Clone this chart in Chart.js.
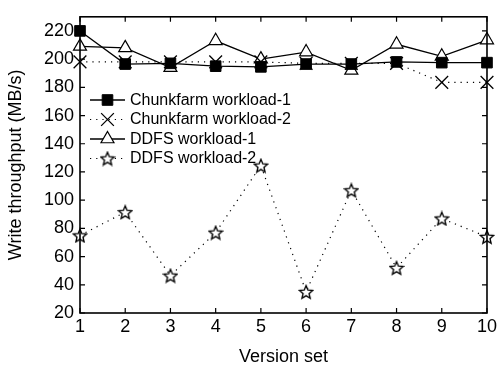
<!DOCTYPE html>
<html>
<head>
<meta charset="utf-8">
<script src="https://cdn.jsdelivr.net/npm/chart.js@4.4.0/dist/chart.umd.min.js"></script>
<style>
html,body{margin:0;padding:0;background:#fff;}
#wrap{width:500px;height:367px;position:relative;}
</style>
</head>
<body>
<div id="wrap"><canvas id="c" width="500" height="367"></canvas></div>
<script>
const versionSets = [1,2,3,4,5,6,7,8,9,10];
const chunkfarmW1 = [220,196.5,197,195,194.5,196.5,196.5,198,197.5,197.5];
const chunkfarmW2 = [198,198,198,198,198,197,197,197,183.5,183.5];
const ddfsW1 = [209,208,194,213,200,205,192,210.5,202,213.5];
const ddfsW2 = [75,91.5,46.5,77,124.5,35,107,52,87,74];
const yTicks = [20,40,60,80,100,120,140,160,180,200,220];
const seriesNames = ['Chunkfarm workload-1','Chunkfarm workload-2','DDFS workload-1','DDFS workload-2'];
const FONT = '"Liberation Sans", Arial, sans-serif';

function makeStar(size){
  const c = document.createElement('canvas');
  c.width = size; c.height = size;
  const g = c.getContext('2d');
  const cx = size/2, cy = size/2 + 0.7, R = size/2 - 1, r = R*0.45;
  g.beginPath();
  for(let i=0;i<10;i++){
    const ang = -Math.PI/2 + i*Math.PI/5;
    const rad = i%2===0 ? R : r;
    const x = cx + rad*Math.cos(ang), y = cy + rad*Math.sin(ang);
    if(i===0) g.moveTo(x,y); else g.lineTo(x,y);
  }
  g.closePath();
  g.fillStyle = '#fff'; g.fill();
  g.lineWidth = 1.35; g.strokeStyle = '#000'; g.stroke();
  return c;
}
const starImg = makeStar(16);

function pts(arr){ return versionSets.map((x,i)=>({x:x,y:arr[i]})); }

const datasets = [
  {label:seriesNames[0], data:pts(chunkfarmW1), borderColor:'#000', backgroundColor:'#000', borderWidth:1.3,
   pointStyle:'rect', pointRadius:7.5, pointBorderWidth:1, pointBackgroundColor:'#000', pointBorderColor:'#000', clip:false},
  {label:seriesNames[1], data:pts(chunkfarmW2), borderColor:'#000', backgroundColor:'#000', borderWidth:1.2, borderDash:[1.2,5],
   pointStyle:'crossRot', pointRadius:9, pointBorderWidth:1.3, pointBorderColor:'#000', clip:false},
  {label:seriesNames[2], data:pts(ddfsW1), borderColor:'#000', backgroundColor:'#fff', borderWidth:1.3,
   pointStyle:'triangle', pointRadius:7.5, pointBorderWidth:1.2, pointBackgroundColor:'#fff', pointBorderColor:'#000', clip:false},
  {label:seriesNames[3], data:pts(ddfsW2), borderColor:'#000', backgroundColor:'#fff', borderWidth:1.2, borderDash:[1.2,5],
   pointStyle:starImg, pointRadius:8, clip:false}
];

const framePlugin = {
  id:'frame',
  afterDatasetsDraw(chart){
    const ctx = chart.ctx, a = chart.chartArea;
    const xs = chart.scales.x, ys = chart.scales.y;
    ctx.save();
    ctx.strokeStyle = '#000';
    ctx.lineWidth = 1.6;
    ctx.strokeRect(a.left, a.top, a.right-a.left, a.bottom-a.top);
    ctx.lineWidth = 1.2;
    ctx.beginPath();
    versionSets.forEach(v=>{
      const p = xs.getPixelForValue(v);
      ctx.moveTo(p, a.bottom); ctx.lineTo(p, a.bottom-5);
      ctx.moveTo(p, a.top); ctx.lineTo(p, a.top+5);
    });
    yTicks.forEach(v=>{
      const p = ys.getPixelForValue(v);
      ctx.moveTo(a.left, p); ctx.lineTo(a.left+5, p);
      ctx.moveTo(a.right, p); ctx.lineTo(a.right-5, p);
    });
    ctx.stroke();

    // legend
    const lx0 = 90, lx1 = 125, tx = 130;
    const rows = [100,119.5,139,158.5];
    ctx.font = '16px ' + FONT;
    ctx.textBaseline = 'middle';
    chart.data.datasets.forEach((ds,i)=>{
      const y = rows[i];
      ctx.save();
      ctx.lineWidth = ds.borderWidth;
      ctx.strokeStyle = '#000';
      ctx.setLineDash(ds.borderDash || []);
      ctx.beginPath(); ctx.moveTo(lx0,y); ctx.lineTo(lx1,y); ctx.stroke();
      ctx.restore();
      const cx = (lx0+lx1)/2;
      ctx.save();
      ctx.fillStyle = ds.pointStyle === 'rect' ? '#000' : '#fff';
      ctx.strokeStyle = '#000';
      ctx.lineWidth = ds.pointBorderWidth || 1;
      Chart.helpers.drawPoint(ctx, {
        pointStyle: ds.pointStyle, radius: ds.pointRadius, borderWidth: ds.pointBorderWidth || 1, rotation:0
      }, cx, y);
      ctx.restore();
      ctx.fillStyle = '#000';
      ctx.fillText(ds.label, tx, y+0.5);
    });
    ctx.restore();
  }
};

new Chart(document.getElementById('c'), {
  type:'line',
  data:{datasets:datasets},
  options:{
    responsive:false,
    animation:false,
    events:[],
    layout:{padding:{top:15,right:10,left:0,bottom:0}},
    plugins:{legend:{display:false}, tooltip:{enabled:false}},
    scales:{
      x:{type:'linear', min:1, max:10,
        afterBuildTicks(s){ s.ticks = versionSets.map(v=>({value:v})); },
        grid:{display:false, drawTicks:false, tickLength:0}, border:{display:false},
        ticks:{color:'#000', padding:3, font:{family:FONT, size:18}, maxRotation:0, autoSkip:false},
        title:{display:true, text:'Version set', color:'#000', padding:{top:0,bottom:-1}, font:{family:FONT, size:18}},
        afterFit(s){ s.height = 54; }
      },
      y:{type:'linear', min:20, max:230,
        afterBuildTicks(s){ s.ticks = yTicks.map(v=>({value:v})); },
        grid:{display:false, drawTicks:false, tickLength:0}, border:{display:false},
        ticks:{color:'#000', padding:6, font:{family:FONT, size:18}},
        title:{display:true, text:'Write throughput (MB/s)', color:'#000', padding:{top:5,bottom:0}, font:{family:FONT, size:18}},
        afterFit(s){ s.width = 80; }
      }
    }
  },
  plugins:[framePlugin]
});
</script>
</body>
</html>
